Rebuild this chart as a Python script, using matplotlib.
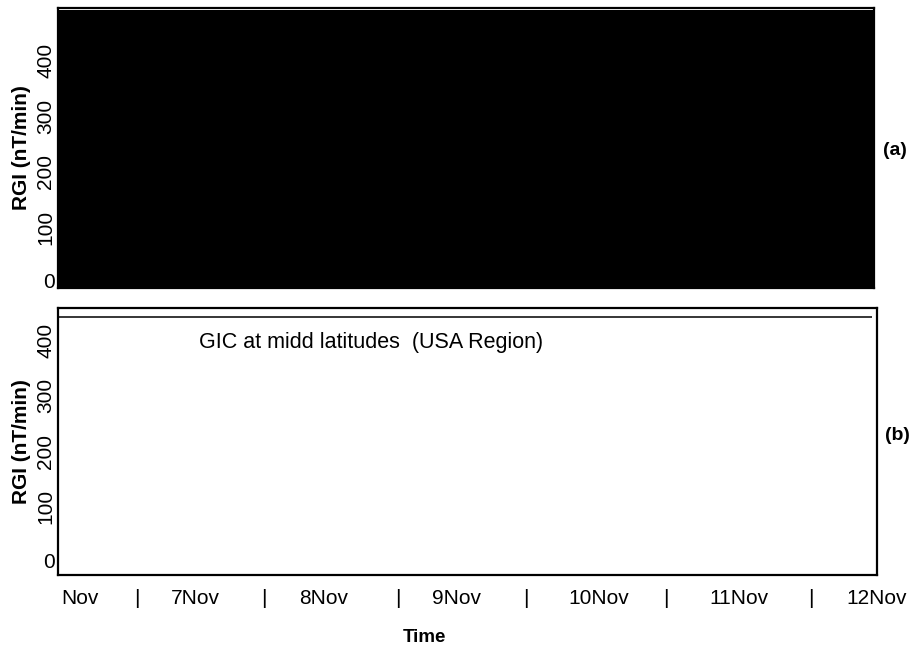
import matplotlib
matplotlib.use("Agg")
import matplotlib.pyplot as plt

plt.rcParams['font.family'] = ['Liberation Sans', 'DejaVu Sans']

# Rate of geomagnetic induction, 6-12 Nov (day of month)
time_days = [6.0, 7.0, 8.0, 9.0, 10.0, 11.0, 12.0]
rgi_a = [490, 490, 490, 490, 490, 490, 490]   # saturated record, panel (a)
rgi_b_level = [441, 441, 441, 441, 441, 441, 441]  # mid-latitude trace, panel (b)

ytick_vals = [0, 100, 200, 300, 400]
xtick_pos = [6.16, 6.58, 7.01, 7.52, 7.96, 8.51, 8.94, 9.45, 9.99, 10.48, 11.02, 11.55, 12.04]
xtick_lbl = ['Nov', '|', '7Nov', '|', '8Nov', '|', '9Nov', '|', '10Nov', '|', '11Nov', '|', '12Nov']

FS = 15
W, H = 916, 650
fig = plt.figure(figsize=(W / 100, H / 100), dpi=100)

def frac(x0, y0, x1, y1):
    return [x0 / W, 1 - y1 / H, (x1 - x0) / W, (y1 - y0) / H]

ax_a = fig.add_axes(frac(58, 8, 874, 288))
ax_b = fig.add_axes(frac(58, 308, 877, 575))

ylim_a = (-9, 494)
ylim_b = (-23, 458)

ax_a.fill_between(time_days, ylim_a[0], rgi_a, color='black', lw=0)
ax_a.set_ylim(*ylim_a)
ax_b.plot(time_days, rgi_b_level, color='0.15', lw=1.3, solid_capstyle='butt')
ax_b.set_ylim(*ylim_b)
ax_b.text(7.04, 396, 'GIC at midd latitudes  (USA Region)', fontsize=15.5,
          ha='left', va='center')

for ax in (ax_a, ax_b):
    ax.set_xlim(6, 12)
    ax.set_yticks(ytick_vals)
    labels = ax.set_yticklabels([str(v) for v in ytick_vals], rotation=90,
                                va='center', fontsize=FS)
    labels[0].set_rotation(0)
    ax.tick_params(axis='y', length=0, pad=2)
    for s in ax.spines.values():
        s.set_linewidth(1.6)
        s.set_color('black')
    ax.set_ylabel('RGI (nT/min)', fontsize=FS, fontweight='bold', labelpad=4)

ax_a.set_xticks([])
ax_b.set_xticks(xtick_pos)
ax_b.set_xticklabels(xtick_lbl, fontsize=FS)
ax_b.tick_params(axis='x', length=0, pad=10)

fig.text(424 / W, 1 - 637 / H, 'Time', fontsize=FS - 1.5, fontweight='bold',
         ha='center', va='center')
fig.text(895 / W, 1 - 150 / H, '(a)', fontsize=FS - 1, fontweight='bold',
         ha='center', va='center')
fig.text(897 / W, 1 - 436 / H, '(b)', fontsize=FS - 1, fontweight='bold',
         ha='center', va='center')

fig.savefig('out.png', dpi=100)
